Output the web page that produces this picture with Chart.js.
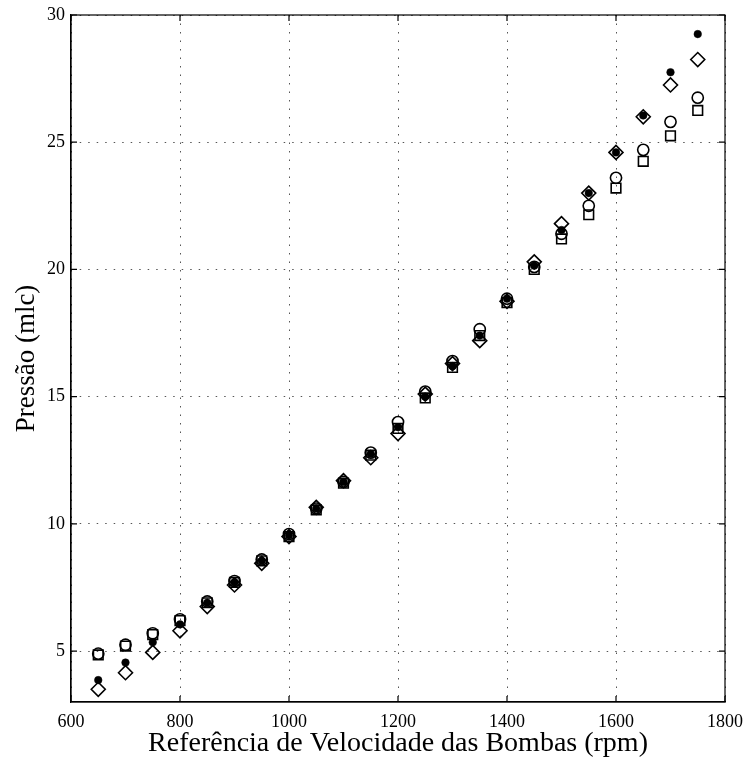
<!DOCTYPE html>
<html>
<head>
<meta charset="utf-8">
<script src="https://cdn.jsdelivr.net/npm/chart.js@4/dist/chart.umd.min.js"></script>
<style>
  html, body { margin: 0; padding: 0; background: #fff; }
  #wrap { width: 745px; height: 758px; }
</style>
</head>
<body>
<div id="wrap"><canvas id="c" width="745" height="758"></canvas></div>
<script>
const rpm = [650,700,750,800,850,900,950,1000,1050,1100,1150,1200,1250,1300,1350,1400,1450,1500,1550,1600,1650,1700,1750];
const serieFilledCircle = [3.86,4.55,5.35,6.05,6.9,7.7,8.55,9.55,10.6,11.65,12.75,13.8,15.0,16.2,17.4,18.85,20.15,21.55,23.0,24.6,26.05,27.75,29.25];
const serieDiamond      = [3.5,4.15,4.95,5.8,6.75,7.6,8.45,9.5,10.65,11.7,12.6,13.55,15.1,16.3,17.2,18.75,20.3,21.8,23.0,24.6,26.0,27.25,28.25];
const serieCircle       = [4.9,5.25,5.7,6.25,6.95,7.75,8.6,9.6,10.6,11.65,12.8,14.0,15.2,16.4,17.65,18.85,20.1,21.4,22.5,23.6,24.7,25.8,26.75];
const serieSquare       = [4.85,5.2,5.65,6.2,6.9,7.7,8.55,9.5,10.55,11.6,12.7,13.75,14.95,16.15,17.4,18.7,20.0,21.2,22.15,23.2,24.25,25.25,26.25];
const xTicks = [600,800,1000,1200,1400,1600,1800];
const yTicks = [5,10,15,20,25,30];
const xTitle = 'Referência de Velocidade das Bombas (rpm)';
const yTitle = 'Pressão (mlc)';

const toPts = arr => rpm.map((x, i) => ({x: x, y: arr[i]}));
const FONT = "'Liberation Serif', 'Times New Roman', serif";

const frame = {
  id: 'frame',
  afterDraw(chart) {
    const {ctx, chartArea: a, scales} = chart;
    ctx.save();
    ctx.strokeStyle = '#000';
    ctx.lineWidth = 1.2;
    ctx.setLineDash([]);
    ctx.strokeRect(a.left, a.top, a.right - a.left, a.bottom - a.top);
    const L = 6;
    ctx.beginPath();
    xTicks.forEach(v => {
      const px = scales.x.getPixelForValue(v);
      ctx.moveTo(px, a.bottom); ctx.lineTo(px, a.bottom - L);
      ctx.moveTo(px, a.top); ctx.lineTo(px, a.top + L);
    });
    yTicks.forEach(v => {
      const py = scales.y.getPixelForValue(v);
      ctx.moveTo(a.left, py); ctx.lineTo(a.left + L, py);
      ctx.moveTo(a.right, py); ctx.lineTo(a.right - L, py);
    });
    ctx.stroke();
    ctx.restore();
  }
};

const common = {
  showLine: false,
  backgroundColor: 'rgba(0,0,0,0)',
  borderColor: '#000',
  pointBorderWidth: 1.6,
  pointBackgroundColor: 'rgba(0,0,0,0)',
  pointBorderColor: '#000'
};

new Chart(document.getElementById('c'), {
  type: 'scatter',
  data: {
    datasets: [
      Object.assign({}, common, {label: 'a', data: toPts(serieFilledCircle), pointStyle: 'circle', pointRadius: 3.8, pointBackgroundColor: '#000', pointBorderWidth: 0.5, order: 0}),
      Object.assign({}, common, {label: 'b', data: toPts(serieDiamond), pointStyle: 'rectRot', pointRadius: 7, order: 1}),
      Object.assign({}, common, {label: 'c', data: toPts(serieCircle), pointStyle: 'circle', pointRadius: 5.6, order: 2}),
      Object.assign({}, common, {label: 'd', data: toPts(serieSquare), pointStyle: 'rect', pointRadius: 6.8, order: 3})
    ]
  },
  options: {
    responsive: false,
    animation: false,
    devicePixelRatio: 1,
    layout: { padding: {top: 15, right: 20, left: 0, bottom: 0} },
    plugins: { legend: {display: false}, tooltip: {enabled: false} },
    scales: {
      x: {
        type: 'linear', min: 600, max: 1800,
        afterBuildTicks: s => { s.ticks = xTicks.map(v => ({value: v})); },
        afterFit: s => { s.height = 56; s.paddingRight = 0; s.paddingLeft = 0; },
        grid: { color: '#555', lineWidth: 1, drawTicks: false },
        border: { display: true, color: '#000', width: 1.2, dash: [1.5, 7] },
        ticks: { color: '#000', font: {family: FONT, size: 18}, padding: 9, maxRotation: 0, autoSkip: false, callback: v => String(v) },
        title: { display: true, text: xTitle, color: '#000', font: {family: FONT, size: 28, lineHeight: 1.0}, padding: {top: 0, bottom: 0} }
      },
      y: {
        type: 'linear', min: 3, max: 30,
        afterBuildTicks: s => { s.ticks = yTicks.map(v => ({value: v})); },
        afterFit: s => { s.width = 71; s.paddingTop = 0; s.paddingBottom = 0; },
        grid: { color: '#555', lineWidth: 1, drawTicks: false },
        border: { display: true, color: '#000', width: 1.2, dash: [1.5, 7] },
        ticks: { color: '#000', font: {family: FONT, size: 18}, padding: 6, autoSkip: false, callback: v => String(v) },
        title: { display: true, text: yTitle, color: '#000', font: {family: FONT, size: 27, lineHeight: 1.0}, padding: {top: 13, bottom: 0} }
      }
    }
  },
  plugins: [frame]
});
</script>
</body>
</html>
